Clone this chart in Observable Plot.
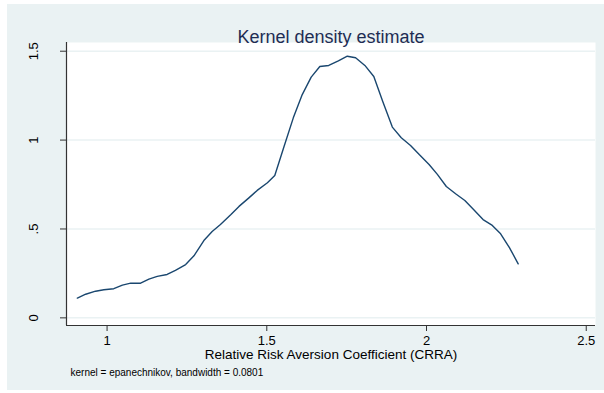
<!DOCTYPE html>
<html>
<head>
<meta charset="utf-8">
<script src="https://cdn.jsdelivr.net/npm/d3@7"></script>
<script src="https://cdn.jsdelivr.net/npm/@observablehq/plot@0.6"></script>
<style>
  html, body { margin: 0; padding: 0; background: #ffffff; }
  #wrap { position: relative; width: 604px; height: 393px; overflow: hidden; }
  #bg { position: absolute; left: 7px; top: 4px; width: 597px; height: 386px; background: #eaf2f3; }
  #chart { position: absolute; left: 0; top: 0; }
</style>
</head>
<body>
<div id="wrap"><div id="bg"></div><div id="chart"></div></div>
<script>
const titleText = "Kernel density estimate";
const xLabel = "Relative Risk Aversion Coefficient (CRRA)";
const noteText = "kernel = epanechnikov, bandwidth = 0.0801";

const xTicks = [1, 1.5, 2, 2.5];
const xTickLabels = ["1", "1.5", "2", "2.5"];
const yTicks = [0, 0.5, 1, 1.5];
const yTickLabels = ["0", ".5", "1", "1.5"];

const crra = [0.907, 0.933, 0.964, 0.990, 1.021, 1.048, 1.074, 1.105, 1.131, 1.157,
  1.188, 1.214, 1.246, 1.272, 1.303, 1.329, 1.355, 1.387, 1.413, 1.444,
  1.470, 1.502, 1.525, 1.554, 1.583, 1.611, 1.639, 1.666, 1.694, 1.724,
  1.752, 1.778, 1.807, 1.835, 1.863, 1.893, 1.921, 1.950, 1.978, 2.008,
  2.034, 2.062, 2.091, 2.120, 2.148, 2.177, 2.206, 2.232, 2.260, 2.287];
const density = [0.111, 0.133, 0.150, 0.158, 0.164, 0.184, 0.195, 0.195, 0.218, 0.233,
  0.244, 0.267, 0.300, 0.349, 0.435, 0.486, 0.525, 0.580, 0.627, 0.675,
  0.717, 0.760, 0.801, 0.964, 1.125, 1.256, 1.354, 1.414, 1.420, 1.446,
  1.472, 1.463, 1.420, 1.358, 1.217, 1.073, 1.013, 0.970, 0.917, 0.863,
  0.807, 0.739, 0.698, 0.660, 0.608, 0.553, 0.520, 0.473, 0.394, 0.304];

const data = crra.map((x, i) => ({x, y: density[i]}));
const xDomain = [0.873, 2.529];
const yDomain = [-0.043, 1.549];

const chart = Plot.plot({
  width: 604,
  height: 393,
  marginLeft: 66,
  marginRight: 9,
  marginTop: 42,
  marginBottom: 68,
  style: {background: "transparent", fontFamily: "'Liberation Sans', Arial, sans-serif", color: "#000"},
  x: {domain: xDomain},
  y: {domain: yDomain},
  marks: [
    Plot.frame({fill: "white", stroke: "none"}),
    Plot.gridY(yTicks, {stroke: "#eaf2f3", strokeOpacity: 1, strokeWidth: 1.5}),
    Plot.ruleX([xDomain[0]], {stroke: "#333", strokeWidth: 1.2}),
    Plot.ruleY([yDomain[0]], {stroke: "#333", strokeWidth: 1.2}),
    Plot.axisX(xTicks, {tickSize: 6, tickPadding: 4, fontSize: 13, stroke: "#333",
      tickFormat: (d) => xTickLabels[xTicks.indexOf(d)], label: null}),
    Plot.axisY(yTicks, {tickSize: 6, tickFormat: () => "", stroke: "#333", label: null}),
    Plot.text(yTicks, {y: (d) => d, text: (d, i) => yTickLabels[i], frameAnchor: "left",
      dx: -33, rotate: -90, textAnchor: "middle", lineAnchor: "middle", fontSize: 13, fill: "#000"}),
    Plot.line(data, {x: "x", y: "y", stroke: "#1a476f", strokeWidth: 1.4}),
    Plot.text([titleText], {frameAnchor: "top", dy: -12, fontSize: 18, fill: "#1e2d53"}),
    Plot.text([xLabel], {frameAnchor: "bottom", dy: 33, fontSize: 13.5, fill: "#000"}),
    Plot.text([noteText], {frameAnchor: "bottom-left", dx: 4, dy: 50, textAnchor: "start", fontSize: 10, fill: "#000"})
  ]
});
document.getElementById("chart").appendChild(chart);
</script>
</body>
</html>
